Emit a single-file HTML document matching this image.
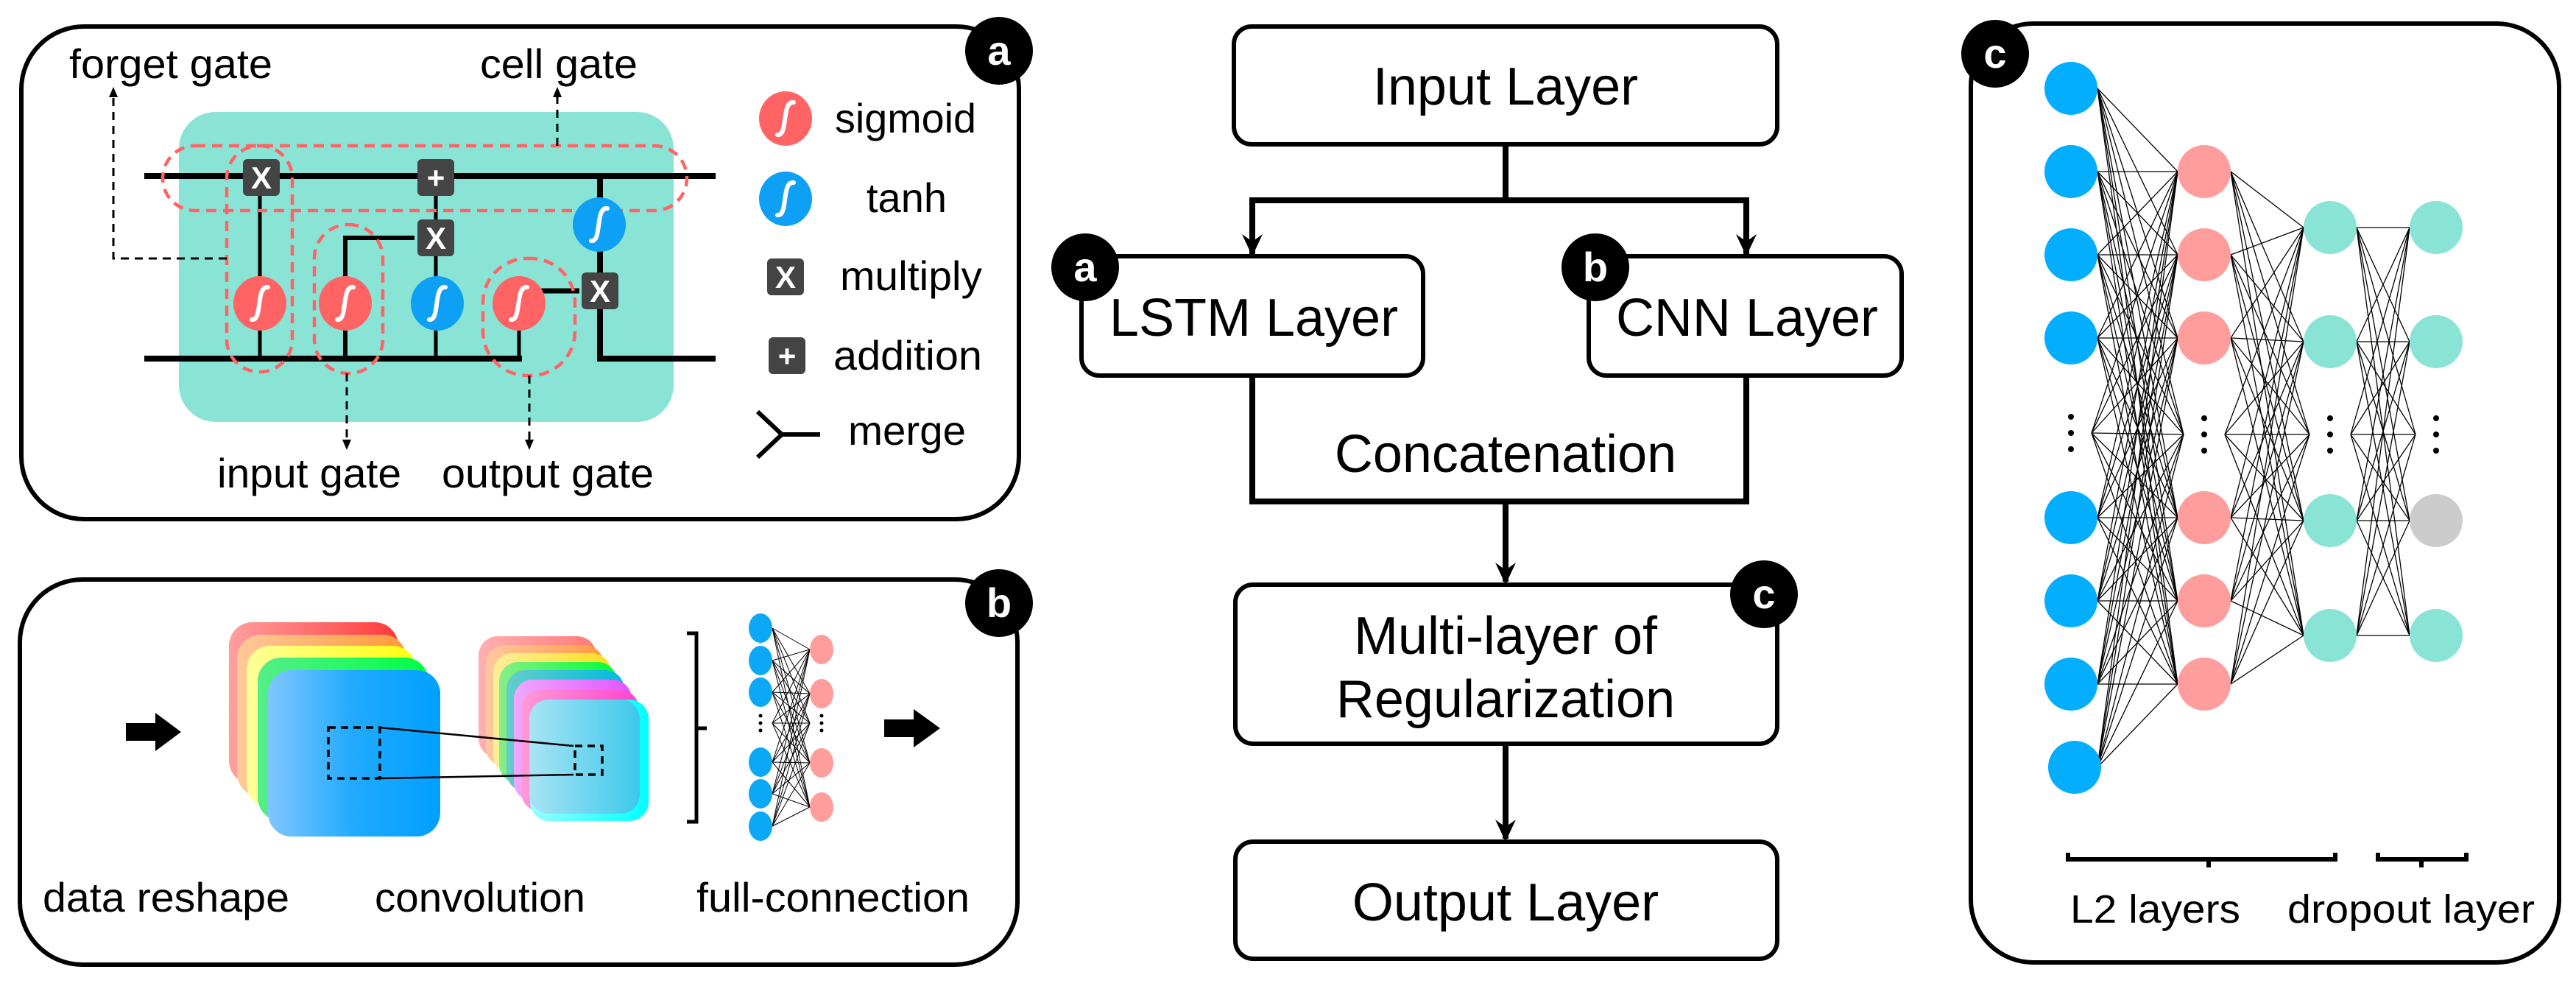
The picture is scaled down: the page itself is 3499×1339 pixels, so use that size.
<!DOCTYPE html>
<html><head><meta charset="utf-8"><style>
html,body{margin:0;padding:0;background:#fff;}
svg{display:block;}
text{font-family:"Liberation Sans",Arial,sans-serif;}
</style></head><body>
<svg id="s" width="3499" height="1339" viewBox="0 0 3499 1339" xmlns="http://www.w3.org/2000/svg">
<defs>
<marker id="ah" viewBox="0 0 10 10" refX="9" refY="5" markerWidth="5" markerHeight="5" orient="auto" markerUnits="userSpaceOnUse" style="overflow:visible"><path d="M0,0 L10,5 L0,10 z" fill="#000"/></marker>
<linearGradient id="gR" x1="0" x2="1"><stop offset="0" stop-color="#ff9f9f"/><stop offset="1" stop-color="#ff3b3b"/></linearGradient>
<linearGradient id="gO" x1="0" x2="1"><stop offset="0" stop-color="#ffc999"/><stop offset="1" stop-color="#ff9a3a"/></linearGradient>
<linearGradient id="gY" x1="0" x2="1"><stop offset="0" stop-color="#ffff9a"/><stop offset="1" stop-color="#ffff10"/></linearGradient>
<linearGradient id="gG" x1="0" x2="1"><stop offset="0" stop-color="#55ee88"/><stop offset="1" stop-color="#00ff44"/></linearGradient>
<linearGradient id="gB" x1="0" x2="1"><stop offset="0" stop-color="#80c6ff"/><stop offset="0.5" stop-color="#20aaff"/><stop offset="1" stop-color="#00a0ff"/></linearGradient>
<linearGradient id="s0" x1="0" x2="1"><stop offset="0" stop-color="#ffb0b0"/><stop offset="1" stop-color="#ff7a7a"/></linearGradient>
<linearGradient id="s1" x1="0" x2="1"><stop offset="0" stop-color="#ffc8a0"/><stop offset="1" stop-color="#ff9a40"/></linearGradient>
<linearGradient id="s2" x1="0" x2="1"><stop offset="0" stop-color="#ffee99"/><stop offset="1" stop-color="#ffdd22"/></linearGradient>
<linearGradient id="s3" x1="0" x2="1"><stop offset="0" stop-color="#88ee88"/><stop offset="1" stop-color="#00ff33"/></linearGradient>
<linearGradient id="s4" x1="0" x2="1"><stop offset="0" stop-color="#66cccc"/><stop offset="1" stop-color="#00bbdd"/></linearGradient>
<linearGradient id="s5" x1="0" x2="1"><stop offset="0" stop-color="#f0a8ff"/><stop offset="1" stop-color="#e055ff"/></linearGradient>
<linearGradient id="s6" x1="0" x2="1"><stop offset="0" stop-color="#ff9ad8"/><stop offset="1" stop-color="#ff44cc"/></linearGradient>
<linearGradient id="s7" x1="0" x2="1"><stop offset="0" stop-color="#99ffff"/><stop offset="1" stop-color="#00ffff"/></linearGradient>
<linearGradient id="s8" x1="0" x2="1"><stop offset="0" stop-color="#a8e4f4"/><stop offset="1" stop-color="#3cc8ec"/></linearGradient>
</defs>

<!-- ================= PANEL A ================= -->
<rect x="29" y="36" width="1355" height="669" rx="85" fill="none" stroke="#000" stroke-width="6"/>
<rect x="243" y="152" width="672" height="421" rx="50" fill="#8ae4d6"/>
<line x1="196" y1="239" x2="972" y2="239" stroke="#000" stroke-width="8" marker-end="url(#ah)"/>
<line x1="196" y1="487" x2="709" y2="487" stroke="#000" stroke-width="8"/>
<polyline points="815,239 815,487 972,487" fill="none" stroke="#000" stroke-width="8" marker-end="url(#ah)"/>
<line x1="353" y1="239" x2="353" y2="487" stroke="#000" stroke-width="5"/>
<polyline points="469,487 469,323 563,323" fill="none" stroke="#000" stroke-width="6" marker-end="url(#ah)"/>
<line x1="592" y1="239" x2="592" y2="487" stroke="#000" stroke-width="5"/>
<line x1="705" y1="487" x2="705" y2="420" stroke="#000" stroke-width="5"/>
<line x1="720" y1="395" x2="787" y2="395" stroke="#000" stroke-width="7" marker-end="url(#ah)"/>
<g fill="none" stroke="#ff6363" stroke-width="4.5" stroke-dasharray="14 9">
<rect x="221" y="198" width="712" height="88" rx="44"/>
<rect x="308" y="198" width="89" height="307" rx="44"/>
<rect x="427" y="305" width="93" height="202" rx="46"/>
<rect x="656" y="351" width="125" height="159" rx="60"/>
</g>
<g fill="none" stroke="#000" stroke-width="3" stroke-dasharray="11 8">
<polyline points="308,351 154,351 154,128"/>
<line x1="757" y1="198" x2="757" y2="128"/>
<line x1="471" y1="507" x2="471" y2="600"/>
<line x1="719" y1="510" x2="719" y2="600"/>
</g>
<g fill="#000">
<path d="M148,132 L154,118 L160,132 z"/><path d="M751,132 L757,118 L763,132 z"/>
<path d="M465,597 L471,611 L477,597 z"/><path d="M713,597 L719,611 L725,597 z"/>
</g>
<g id="ops"></g>
<g font-size="56" fill="#000">
<text x="94" y="106" textLength="276" lengthAdjust="spacingAndGlyphs">forget gate</text>
<text x="652" y="106" textLength="214" lengthAdjust="spacingAndGlyphs">cell gate</text>
<text x="295" y="662" textLength="250" lengthAdjust="spacingAndGlyphs">input gate</text>
<text x="600" y="662" textLength="288" lengthAdjust="spacingAndGlyphs">output gate</text>
<text x="1134" y="180" textLength="192" lengthAdjust="spacingAndGlyphs">sigmoid</text>
<text x="1177" y="288" textLength="109" lengthAdjust="spacingAndGlyphs">tanh</text>
<text x="1141" y="394" textLength="193" lengthAdjust="spacingAndGlyphs">multiply</text>
<text x="1132" y="502" textLength="202" lengthAdjust="spacingAndGlyphs">addition</text>
<text x="1152" y="604" textLength="160" lengthAdjust="spacingAndGlyphs">merge</text>
</g>
<polyline points="1029,559 1062,590 1029,621" fill="none" stroke="#000" stroke-width="6"/>
<line x1="1062" y1="590" x2="1114" y2="590" stroke="#000" stroke-width="6" marker-end="url(#ah)"/>
<circle cx="1357" cy="69" r="46" fill="#000"/>
<text x="1357" y="88" font-size="56" font-weight="bold" fill="#fff" text-anchor="middle">a</text>

<!-- ================= PANEL B ================= -->
<rect x="27" y="787" width="1355" height="523" rx="85" fill="none" stroke="#000" stroke-width="6"/>
<circle cx="1357" cy="819" r="46" fill="#000"/>
<text x="1357" y="838" font-size="56" font-weight="bold" fill="#fff" text-anchor="middle">b</text>
<path d="M171,982 L211,982 L211,968 L246,994 L211,1020 L211,1006 L171,1006 z" fill="#000"/>
<path d="M1201,977 L1241,977 L1241,963 L1277,989 L1241,1015 L1241,1001 L1201,1001 z" fill="#000"/>
<rect x="311" y="845" width="230" height="220" rx="32" fill="url(#gR)"/>
<rect x="322" y="862" width="230" height="220" rx="32" fill="url(#gO)"/>
<rect x="335" y="877" width="230" height="220" rx="32" fill="url(#gY)"/>
<rect x="350" y="893" width="232" height="222" rx="32" fill="url(#gG)"/>
<rect x="364" y="910" width="234" height="226" rx="32" fill="url(#gB)"/>
<rect x="650" y="864" width="160" height="165" rx="26" fill="url(#s0)"/>
<rect x="660" y="876" width="160" height="165" rx="26" fill="url(#s1)"/>
<rect x="670" y="887" width="160" height="165" rx="26" fill="url(#s2)"/>
<rect x="678" y="899" width="160" height="165" rx="26" fill="url(#s3)"/>
<rect x="688" y="910" width="160" height="165" rx="26" fill="url(#s4)"/>
<rect x="698" y="923" width="160" height="165" rx="26" fill="url(#s5)"/>
<rect x="708" y="937" width="160" height="165" rx="26" fill="url(#s6)"/>
<rect x="720" y="950" width="161" height="165" rx="26" fill="url(#s7)"/>
<rect x="719" y="950" width="150" height="155" rx="26" fill="url(#s8)"/>
<g fill="none" stroke="#000" stroke-width="3.5" stroke-dasharray="10 7">
<rect x="446" y="988" width="70" height="69"/>
<rect x="781" y="1013" width="37" height="39"/>
</g>
<line x1="516" y1="988" x2="779" y2="1013" stroke="#000" stroke-width="2.5"/>
<line x1="516" y1="1057" x2="779" y2="1052" stroke="#000" stroke-width="2.5"/>
<polyline points="933,860 946,860 946,1116 933,1116" fill="none" stroke="#000" stroke-width="5"/>
<line x1="946" y1="989" x2="960" y2="989" stroke="#000" stroke-width="5"/>
<g id="nnb"></g>
<g font-size="56" fill="#000">
<text x="58" y="1238" textLength="335" lengthAdjust="spacingAndGlyphs">data reshape</text>
<text x="509" y="1238" textLength="286" lengthAdjust="spacingAndGlyphs">convolution</text>
<text x="946" y="1238" textLength="371" lengthAdjust="spacingAndGlyphs">full-connection</text>
</g>

<!-- ================= MIDDLE ================= -->
<g fill="none" stroke="#000" stroke-width="6">
<rect x="1676" y="36" width="738" height="160" rx="24"/>
<rect x="1469" y="348" width="464" height="162" rx="24"/>
<rect x="2158" y="348" width="425" height="162" rx="24"/>
<rect x="1678" y="794" width="736" height="216" rx="24"/>
<rect x="1678" y="1143" width="736" height="159" rx="24"/>
</g>
<g fill="none" stroke="#000" stroke-width="8">
<line x1="2045" y1="196" x2="2045" y2="272"/>
<polyline points="1701,345 1701,272 2372,272 2372,345"/>
<polyline points="1701,510 1701,681 2372,681 2372,510"/>
<line x1="2045" y1="681" x2="2045" y2="790"/>
<line x1="2045" y1="1010" x2="2045" y2="1139"/>
</g>
<g fill="#000">
<path d="M1687,318 L1701,348 L1715,318 L1701,328 z"/>
<path d="M2358,318 L2372,348 L2386,318 L2372,328 z"/>
<path d="M2031,764 L2045,794 L2059,764 L2045,774 z"/>
<path d="M2031,1113 L2045,1143 L2059,1113 L2045,1123 z"/>
</g>
<g font-size="72" fill="#000" text-anchor="middle">
<text x="2045" y="142">Input Layer</text>
<text x="1703" y="456">LSTM Layer</text>
<text x="2373" y="456">CNN Layer</text>
<text x="2045" y="641">Concatenation</text>
<text x="2045" y="888">Multi-layer of</text>
<text x="2045" y="974">Regularization</text>
<text x="2045" y="1250">Output Layer</text>
</g>
<circle cx="1474" cy="363" r="46" fill="#000"/>
<text x="1474" y="382" font-size="56" font-weight="bold" fill="#fff" text-anchor="middle">a</text>
<circle cx="2167" cy="363" r="46" fill="#000"/>
<text x="2167" y="382" font-size="56" font-weight="bold" fill="#fff" text-anchor="middle">b</text>
<circle cx="2396" cy="807" r="46" fill="#000"/>
<text x="2396" y="826" font-size="56" font-weight="bold" fill="#fff" text-anchor="middle">c</text>

<!-- ================= PANEL C ================= -->
<rect x="2677" y="32" width="799" height="1275" rx="85" fill="none" stroke="#000" stroke-width="6"/>
<circle cx="2710" cy="73" r="46" fill="#000"/>
<text x="2710" y="92" font-size="56" font-weight="bold" fill="#fff" text-anchor="middle">c</text>
<g id="nnc"></g>
<g fill="none" stroke="#000" stroke-width="6">
<polyline points="2809,1158 2809,1167 3172,1167 3172,1158"/>
<line x1="3000" y1="1167" x2="3000" y2="1178"/>
<polyline points="3230,1158 3230,1167 3350,1167 3350,1158"/>
<line x1="3289" y1="1167" x2="3289" y2="1178"/>
</g>
<g font-size="54" fill="#000">
<text x="2812" y="1253" textLength="231" lengthAdjust="spacingAndGlyphs">L2 layers</text>
<text x="3107" y="1253" textLength="336" lengthAdjust="spacingAndGlyphs">dropout layer</text>
</g>
</svg>
<script>
var NS="http://www.w3.org/2000/svg";
function el(p,t,a){var e=document.createElementNS(NS,t);for(var k in a)e.setAttribute(k,a[k]);p.appendChild(e);return e;}
var ops=document.getElementById('ops');
function sig(cx,cy,col){el(ops,'ellipse',{cx:cx,cy:cy,rx:36,ry:37,fill:col});
 el(ops,'path',{d:'M'+(cx-11)+','+(cy+22)+' C'+(cx+4)+','+(cy+24)+' '+(cx-6)+','+(cy-24)+' '+(cx+11)+','+(cy-22),fill:'none',stroke:'#fff','stroke-width':6,'stroke-linecap':'round'});}
function box(cx,cy,ch){el(ops,'rect',{x:cx-25,y:cy-25,width:50,height:50,rx:6,fill:'#444'});
 var t=el(ops,'text',{x:cx,y:cy+15,'font-size':42,fill:'#fff','text-anchor':'middle','font-weight':'bold'});t.textContent=ch;}
sig(353,412,'#ff6363');sig(469,412,'#ff6363');sig(594,412,'#0da0f5');sig(705,412,'#ff6363');sig(814,305,'#0da0f5');
box(355,241,'X');box(592,241,'+');box(592,323,'X');box(815,395,'X');
sig(1067,161,'#ff6363');sig(1067,270,'#0da0f5');box(1067,376,'X');box(1069,483,'+');
var nb=document.getElementById('nnb');
var by=[853,897,940,1035,1078,1122],py=[882,942,1036,1096];
var bL=by.concat([982]),pL=py.concat([982]);
bL.forEach(function(a){pL.forEach(function(b){el(nb,'line',{x1:1049,y1:a,x2:1100,y2:b,stroke:'#000','stroke-width':1});});});
by.forEach(function(y){el(nb,'ellipse',{cx:1033,cy:y,rx:16,ry:20,fill:'#0aa8f5'});});
py.forEach(function(y){el(nb,'ellipse',{cx:1116,cy:y,rx:16,ry:20,fill:'#ff9c9c'});});
[972,982,992].forEach(function(y){el(nb,'circle',{cx:1033,cy:y,r:2.5,fill:'#000'});el(nb,'circle',{cx:1116,cy:y,r:2.5,fill:'#000'});});
var nc=document.getElementById('nnc');
var L=[{x:2813,ys:[120,233,346,459,703,816,929,1042],col:'#03aefe'},
{x:2994,ys:[233,346,459,703,816,929],col:'#ff9c9c'},
{x:3165,ys:[309,464,707,863],col:'#8ae4d6'},
{x:3309,ys:[309,464,707,863],col:'#8ae4d6'}];
var dotY=[588,590,590,590];
for(var i=0;i<3;i++){var A=L[i],B=L[i+1];
 var as=A.ys.map(function(y){return [A.x+36,y];}).concat([[A.x+28,dotY[i]]]);
 var bs=B.ys.map(function(y){return [B.x-36,y];}).concat([[B.x-28,dotY[i+1]]]);
 as.forEach(function(a){bs.forEach(function(b){el(nc,'line',{x1:a[0],y1:a[1],x2:b[0],y2:b[1],stroke:'#000','stroke-width':1.3});});});}
L.forEach(function(l,i){l.ys.forEach(function(y,j){var c=l.col;if(i==3&&j==2)c='#cccccc';
 el(nc,'ellipse',{cx:(i==0&&j==7)?2818:l.x,cy:y,rx:36,ry:36,fill:c});});
 [dotY[i]-22,dotY[i],dotY[i]+22].forEach(function(y){el(nc,'circle',{cx:l.x,cy:y,r:4,fill:'#000'});});});
</script>
</body></html>
